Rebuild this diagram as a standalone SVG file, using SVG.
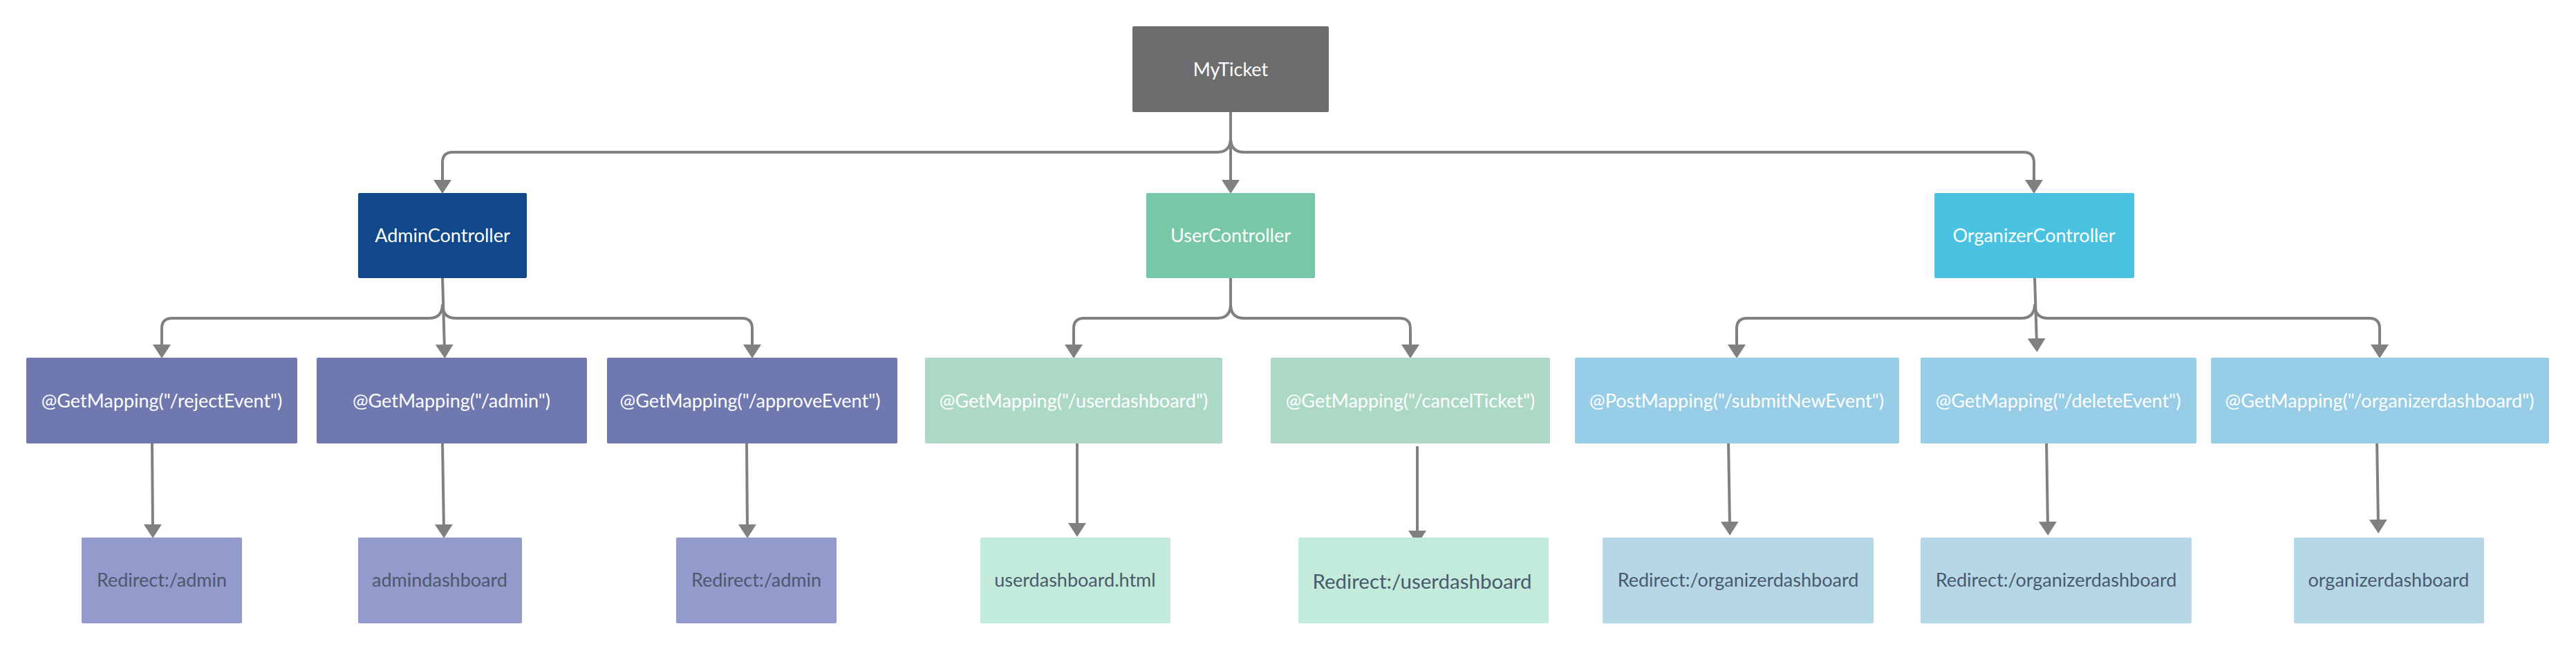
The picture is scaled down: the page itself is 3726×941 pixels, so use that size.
<svg xmlns="http://www.w3.org/2000/svg" width="3726" height="941" viewBox="0 0 3726 941">
<style>
  .n text{font-family:Lato,"Open Sans","Liberation Sans",sans-serif;font-size:27px;text-anchor:middle}
  .n text.big{font-size:29.5px}
  .w text{fill:#ffffff}
  .d text{fill:#4b596c}
  .c path{fill:none;stroke:#808080;stroke-width:4;marker-end:url(#ah)}
</style>
<defs>
  <marker id="ah" markerUnits="userSpaceOnUse" markerWidth="22" markerHeight="28" viewBox="0 0 22 28" refX="8" refY="14" orient="auto">
    <path d="M0,1 L20,14 L0,27 Z" fill="#808080"/>
  </marker>
</defs>
<rect width="3726" height="941" fill="#ffffff"/>

<g id="connectors" class="c">
  <path d="M1780,160 V268"/>
  <path d="M1780,200 Q1780,220 1760,220 H655 Q640,220 640,235 V268"/>
  <path d="M1780,200 Q1780,220 1800,220 H2927 Q2942,220 2942,235 V268"/>

  <path d="M640,400 L643,506"/>
  <path d="M640,440 Q640,460 620,460 H249 Q234,460 234,475 V506"/>
  <path d="M640,440 Q640,460 660,460 H1073 Q1088,460 1088,475 V506"/>

  <path d="M1780,400 V440 Q1780,460 1760,460 H1568 Q1553,460 1553,475 V506"/>
  <path d="M1780,440 Q1780,460 1800,460 H2025 Q2040,460 2040,475 V506"/>

  <path d="M2943,400 L2946,497"/>
  <path d="M2943,440 Q2943,460 2923,460 H2527 Q2512,460 2512,475 V506"/>
  <path d="M2943,440 Q2943,460 2963,460 H3427 Q3442,460 3442,475 V506"/>

  <path d="M220,641 L221,766"/>
  <path d="M640,641 L642,766"/>
  <path d="M1080,641 L1081,766"/>
  <path d="M1558,633 L1558,764"/>
  <path d="M2050,645 L2050,775"/>
  <path d="M2500,635 L2502,762"/>
  <path d="M2960,635 L2962,762"/>
  <path d="M3438,634 L3440,759"/>
</g>

<g id="myticket" class="n w"><rect x="1638" y="38" width="284" height="124" rx="2" fill="#6d6d6f"/><text x="1780" y="110">MyTicket</text></g>

<g id="admincontroller" class="n w"><rect x="518" y="279" width="244" height="123" rx="2" fill="#10488a"/><text x="640" y="350">AdminController</text></g>
<g id="usercontroller" class="n w"><rect x="1658" y="279" width="244" height="123" rx="2" fill="#78c7a7"/><text x="1780" y="350">UserController</text></g>
<g id="organizercontroller" class="n w"><rect x="2798" y="279" width="289" height="123" rx="2" fill="#4ac2e2"/><text x="2942" y="350">OrganizerController</text></g>

<g id="rejectevent" class="n w"><rect x="38" y="517" width="392" height="124" rx="2" fill="#7078b0"/><text x="234" y="589">@GetMapping("/rejectEvent")</text></g>
<g id="admin" class="n w"><rect x="458" y="517" width="391" height="124" rx="2" fill="#7078b0"/><text x="653" y="589">@GetMapping("/admin")</text></g>
<g id="approveevent" class="n w"><rect x="878" y="517" width="420" height="124" rx="2" fill="#7078b0"/><text x="1085" y="589">@GetMapping("/approveEvent")</text></g>

<g id="userdashboardmap" class="n w"><rect x="1338" y="517" width="430" height="124" rx="2" fill="#acd9c6"/><text x="1553" y="589">@GetMapping("/userdashboard")</text></g>
<g id="cancelticket" class="n w"><rect x="1838" y="517" width="404" height="124" rx="2" fill="#acd9c6"/><text x="2040" y="589">@GetMapping("/cancelTicket")</text></g>

<g id="submitnewevent" class="n w"><rect x="2278" y="517" width="469" height="124" rx="2" fill="#97cde6"/><text x="2512" y="589">@PostMapping("/submitNewEvent")</text></g>
<g id="deleteevent" class="n w"><rect x="2778" y="517" width="399" height="124" rx="2" fill="#97cde6"/><text x="2977" y="589">@GetMapping("/deleteEvent")</text></g>
<g id="organizerdashboardmap" class="n w"><rect x="3198" y="517" width="489" height="124" rx="2" fill="#97cde6"/><text x="3442" y="589">@GetMapping("/organizerdashboard")</text></g>

<g id="leaf-reject" class="n d"><rect x="118" y="777" width="232" height="124" rx="2" fill="#939bcd"/><text x="234" y="848">Redirect:/admin</text></g>
<g id="leaf-admindashboard" class="n d"><rect x="518" y="777" width="237" height="124" rx="2" fill="#939bcd"/><text x="636" y="848">admindashboard</text></g>
<g id="leaf-approve" class="n d"><rect x="978" y="777" width="232" height="124" rx="2" fill="#939bcd"/><text x="1094" y="848">Redirect:/admin</text></g>

<g id="leaf-userdashboardhtml" class="n d"><rect x="1418" y="777" width="275" height="124" rx="2" fill="#c3ebdb"/><text x="1555" y="848">userdashboard.html</text></g>
<g id="leaf-redirectuser" class="n d"><rect x="1878" y="777" width="362" height="124" rx="2" fill="#c3ebdb"/><text class="big" x="2057" y="851">Redirect:/userdashboard</text></g>

<g id="leaf-redirectorg1" class="n d"><rect x="2318" y="777" width="392" height="124" rx="2" fill="#b5d7e6"/><text x="2514" y="848">Redirect:/organizerdashboard</text></g>
<g id="leaf-redirectorg2" class="n d"><rect x="2778" y="777" width="392" height="124" rx="2" fill="#b5d7e6"/><text x="2974" y="848">Redirect:/organizerdashboard</text></g>
<g id="leaf-organizerdashboard" class="n d"><rect x="3318" y="777" width="275" height="124" rx="2" fill="#b5d7e6"/><text x="3455" y="848">organizerdashboard</text></g>
</svg>
